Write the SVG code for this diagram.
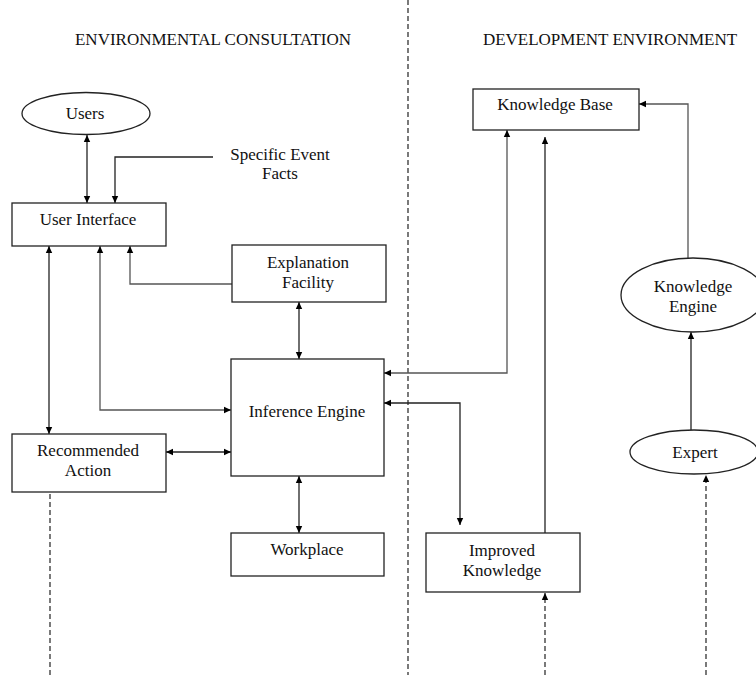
<svg xmlns="http://www.w3.org/2000/svg" width="756" height="675" viewBox="0 0 756 675">
<defs>
<marker id="ah" markerWidth="8" markerHeight="8" refX="7" refY="4" orient="auto-start-reverse" markerUnits="userSpaceOnUse">
<path d="M0,0.8 L7,4 L0,7.2 Z" fill="#000"/>
</marker>
<style>
.box{fill:#fff;stroke:#222;stroke-width:1.3}
.t{font-family:"Liberation Serif","Times New Roman",serif;font-size:17px;fill:#111;text-anchor:middle}
.h{font-family:"Liberation Serif","Times New Roman",serif;font-size:17px;fill:#111;text-anchor:middle}
.c{fill:none;stroke:#222;stroke-width:1.3}
.g{fill:none;stroke:#555;stroke-width:1.3}
.d{fill:none;stroke:#222;stroke-width:1.2;stroke-dasharray:5 3}
</style>
</defs>
<rect width="756" height="675" fill="#fff"/>
<g id="titles">
<text class="h" x="213" y="45">ENVIRONMENTAL CONSULTATION</text>
<text class="h" x="610" y="45">DEVELOPMENT ENVIRONMENT</text>
</g>
<g id="connectors">
<line class="d" x1="408" y1="0" x2="408" y2="675"/>
<line class="c" x1="87" y1="135" x2="87" y2="203" marker-start="url(#ah)" marker-end="url(#ah)"/>
<polyline class="c" points="213,157 115,157 115,203" marker-end="url(#ah)"/>
<polyline class="g" points="232,284 130,284 130,246" marker-end="url(#ah)"/>
<polyline class="g" points="100,246 100,410 231,410" marker-start="url(#ah)" marker-end="url(#ah)"/>
<line class="c" x1="49" y1="246" x2="49" y2="434" marker-start="url(#ah)" marker-end="url(#ah)"/>
<line class="c" x1="166" y1="452" x2="231" y2="452" marker-start="url(#ah)" marker-end="url(#ah)"/>
<line class="c" x1="299" y1="302" x2="299" y2="359" marker-start="url(#ah)" marker-end="url(#ah)"/>
<line class="c" x1="299" y1="476" x2="299" y2="533" marker-start="url(#ah)" marker-end="url(#ah)"/>
<polyline class="g" points="507,130 507,373 384,373" marker-start="url(#ah)" marker-end="url(#ah)"/>
<polyline class="c" points="384,403 460,403 460,525" marker-start="url(#ah)" marker-end="url(#ah)"/>
<line class="c" x1="545" y1="137" x2="545" y2="542" marker-start="url(#ah)" marker-end="url(#ah)"/>
<polyline class="g" points="688,258 688,104 639,104" marker-end="url(#ah)"/>
<line class="c" x1="691" y1="430" x2="691" y2="332" marker-end="url(#ah)"/>
<line class="d" x1="706" y1="675" x2="706" y2="475" marker-end="url(#ah)"/>
<line class="d" x1="545" y1="675" x2="545" y2="593" marker-end="url(#ah)"/>
<line class="d" x1="50" y1="478" x2="50" y2="675"/>
</g>
<g id="users">
<ellipse class="box" cx="86" cy="113.5" rx="64" ry="21"/>
<text class="t" x="85" y="119">Users</text>
</g>
<g id="specific-event-facts">
<text class="t" x="280" y="160">Specific Event</text>
<text class="t" x="280" y="179">Facts</text>
</g>
<g id="user-interface">
<rect class="box" x="12" y="203" width="154" height="43"/>
<text class="t" x="88" y="225">User Interface</text>
</g>
<g id="explanation-facility">
<rect class="box" x="232" y="245" width="154" height="57"/>
<text class="t" x="308" y="268">Explanation</text>
<text class="t" x="308" y="288">Facility</text>
</g>
<g id="inference-engine">
<rect class="box" x="231" y="359" width="153" height="117"/>
<text class="t" x="307" y="417">Inference Engine</text>
</g>
<g id="recommended-action">
<rect class="box" x="12" y="434" width="154" height="58"/>
<text class="t" x="88" y="456">Recommended</text>
<text class="t" x="88" y="476">Action</text>
</g>
<g id="workplace">
<rect class="box" x="231" y="533" width="153" height="43"/>
<text class="t" x="307" y="555">Workplace</text>
</g>
<g id="knowledge-base">
<rect class="box" x="473" y="89" width="166" height="41"/>
<text class="t" x="555" y="110">Knowledge Base</text>
</g>
<g id="improved-knowledge">
<rect class="box" x="426" y="533" width="154" height="59"/>
<text class="t" x="502" y="556">Improved</text>
<text class="t" x="502" y="576">Knowledge</text>
</g>
<g id="knowledge-engine">
<ellipse class="box" cx="693" cy="295" rx="72" ry="37"/>
<text class="t" x="693" y="292">Knowledge</text>
<text class="t" x="693" y="312">Engine</text>
</g>
<g id="expert">
<ellipse class="box" cx="694" cy="452" rx="64" ry="22"/>
<text class="t" x="695" y="458">Expert</text>
</g>
</svg>
